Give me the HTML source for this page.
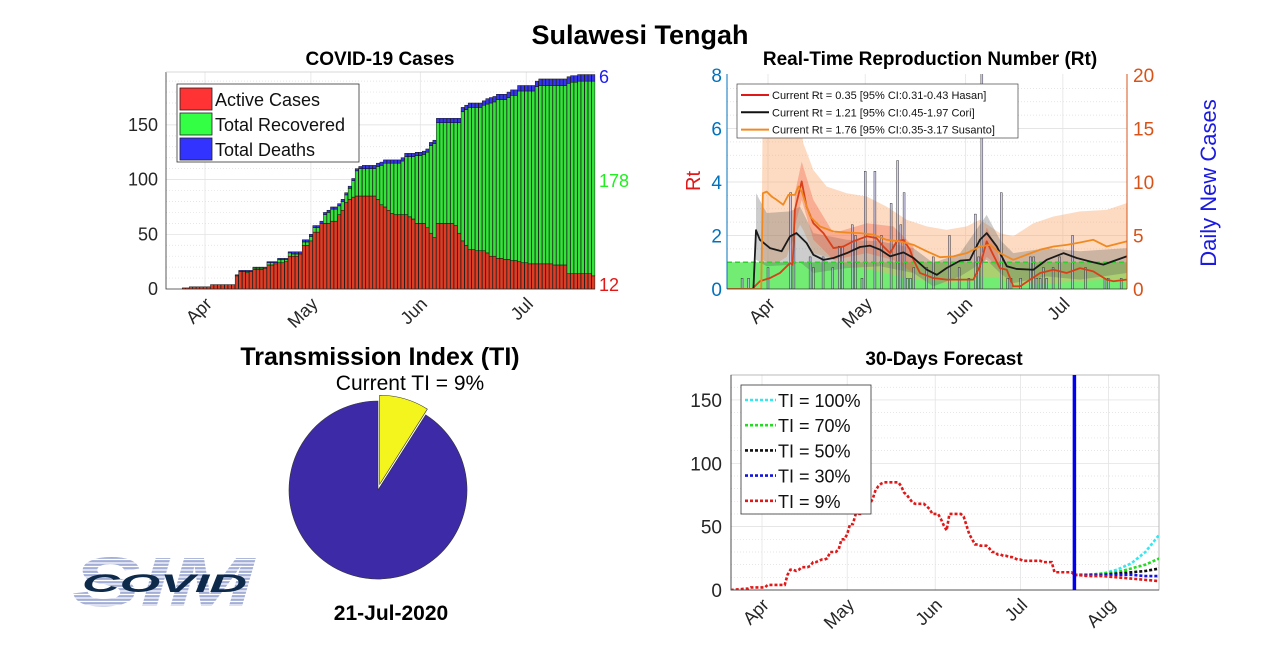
<!DOCTYPE html>
<html><head><meta charset="utf-8">
<style>
html,body{margin:0;padding:0;background:#fff;}
svg{display:block;font-family:"Liberation Sans",sans-serif;}
</style></head>
<body>
<svg id="fig" width="1280" height="661" viewBox="0 0 1280 661" xmlns="http://www.w3.org/2000/svg">
<defs>
<clipPath id="clipTR"><rect x="727" y="74" width="400" height="215"/></clipPath>
<clipPath id="clipFC"><rect x="731" y="375" width="428" height="215"/></clipPath>
</defs>
<text x="640" y="44" text-anchor="middle" font-size="27" font-weight="bold">Sulawesi Tengah</text>
<text x="380" y="65" text-anchor="middle" font-size="19" font-weight="bold">COVID-19 Cases</text>
<text x="930" y="65" text-anchor="middle" font-size="19" font-weight="bold">Real-Time Reproduction Number (Rt)</text>
<text x="944" y="365" text-anchor="middle" font-size="19" font-weight="bold">30-Days Forecast</text>
<text x="380" y="365" text-anchor="middle" font-size="25" font-weight="bold">Transmission Index (TI)</text>
<text x="410" y="390" text-anchor="middle" font-size="21">Current TI = 9%</text>
<text x="391" y="620" text-anchor="middle" font-size="21" font-weight="bold">21-Jul-2020</text>
<g id="logo">
  <text x="72" y="606" font-size="70" font-weight="bold" font-style="italic" fill="#a3aed6" textLength="182" lengthAdjust="spacingAndGlyphs">SIM</text>
  <g id="logoStripes"></g>
  <text x="82" y="592" font-size="25" font-weight="bold" font-style="italic" fill="#0d2a4a" textLength="165" lengthAdjust="spacingAndGlyphs">COVID</text>
</g>
<g id="tl"></g>
<g id="tr"></g>
<g id="pie"></g>
<g id="fc"></g>
</svg>
<script>
// ===== Cases chart data (day offset from Apr 1, starting at day -6) =====
const casesStartDay = -6;
const totalCases = [1,1,2,2,2,2,2, 2,4,4,4,4,4,4,4, 13,17,17,17,17, 20,20,20,20, 25,25,25, 28,28,28, 34,34,34,34, 45,45,50, 58,58,62, 70,72, 75,75,78, 82,88,94, 101,110, 112,113,113,113,113,115,116, 118,118,118,118,118,120, 124,124,124,125,125,126,128, 134,136, 156,156,156,156,156,156,156, 166,168,170,170,170,170,172,174,175,176, 178,178,178,180,182,182,186, 186,186,186,186,190, 192,192,192,192,192,192,192,192,194, 195,195,196,196,196,196,196];
const activeCases = [1,1,2,2,2,2,2, 2,4,4,4,4,4,4,4, 12,16,16,15,16, 18,18,18,19, 22,22,23, 24,24,25, 30,30,30,32, 40,40,44, 52,52,60, 60,60, 62,62,68, 72,79,82, 84,85, 85,85,85,85,85,82,77, 75,72,69,68,68,68, 68,66,64,60,60,60,56, 51,47, 60,60,60,60,60,58,51, 44,40,36,36,35,35,35,33,30,30, 28,28,27,27,26,26,25, 24,24,23,23,23, 23,23,23,23,22,22,22,22,14, 14,14,14,14,14,14,12];
const totalDeaths = [0,0,0,0,0,0,0,0,0,0,0,0,0,0,0, 1,1,1,1,1,1,1,1,1,1,1,1,1,1,1,1, 2,2,2,2,2,2,2,2,2,2,2,2,2,2,2,2,2,2,2,2, 3,3,3,3,3,3,3,3,3,3,3,3,3,3,3,3,3,3,3,3,3, 4,4,4,4,4,4,4,4,4,4,4,4,4,4, 5,5,5,5,5,5,5,5,5,5,5,5,5,5,5, 6,6,6,6,6,6,6,6,6,6,6,6,6,6,6,6];
const monthNames = ["Apr","May","Jun","Jul"];
const monthDays = [0,30,61,91];
const casesTicks = [0,50,100,150];

// ===== Rt chart data =====
const dailyDays = [-8,-6,0,7,8,13,14,17,20,22,23,26,27,29,30,33,35,38,40,41,42,43,44,45,49,51,56,59,62,64,65,66,72,74,75,78,81,82,83,84,85,86,88,90,94,98,104,105,109];
const dailyNew  = [1,1,2,9,5,3,2,3,2,4,4,6,5,1,11,11,5,8,12,6,9,1,1,2,2,3,5,2,1,7,3,22,9,1,1,1,3,3,1,1,2,1,2,3,5,2,1,1,1];
const susDays = [-12.6,-2.1,-1.6,-0.4,1.1,2.7,4.7,6.3,8.3,9.4,10.4,13.0,16.0,20.2,24.3,28.4,32.5,36.6,40.7,44.9,49.0,53.1,57.2,61.3,65.4,68.5,71.6,75.7,79.8,84.0,88.1,92.2,96.3,100.4,104.5,110.7];
const susRt   = [0,0,3.58,3.64,3.46,3.33,3.15,3.52,3.52,3.83,3.64,2.71,2.34,2.15,2.11,2.09,2.03,1.84,1.78,1.65,1.41,1.19,1.22,1.34,1.59,1.65,1.34,1.09,1.28,1.47,1.59,1.65,1.74,1.84,1.59,1.78];
const coriDays = [-12.6,-4.5,-3.7,-2.5,0.6,4.2,6.8,8.8,11.9,14.0,17.1,20.2,24.3,28.4,31.5,34.6,37.7,41.8,44.9,49.0,52.1,55.1,59.3,62.3,65.4,67.5,70.6,73.7,76.7,81.9,86.0,91.2,95.3,99.4,103.5,110.7];
const coriRt   = [0,0,2.2,1.84,1.53,1.41,1.97,2.09,1.72,1.28,1.09,1.16,1.34,1.57,1.62,1.47,1.22,1.37,1.16,0.72,0.53,0.78,1.06,1.09,1.84,2.09,1.59,0.85,0.75,0.72,1.09,1.34,1.16,1.03,0.91,1.22];
const hasDays = [-12.6,-4.9,-2.5,0.6,3.7,6.8,7.6,8.3,10.4,11.9,14.0,17.1,20.2,23.3,26.3,30.5,33.5,35.6,37.7,39.7,41.8,43.8,44.9,46.9,51.0,55.1,59.3,63.4,65.4,67.5,69.5,71.6,73.7,75.7,77.8,80.9,84.0,88.1,92.2,96.3,100.4,104.5,106.6,110.7];
const hasRt   = [0,0,0.29,0.41,0.6,0.97,0.9,2.96,4.02,3.08,2.46,2.09,1.53,1.59,1.78,1.97,1.9,1.59,1.34,1.78,1.84,1.47,1.09,0.6,0.41,0.35,0.35,0.35,0.85,1.78,1.28,0.78,0.72,0.1,0.1,0.35,0.6,0.72,0.6,0.78,0.66,0.35,0.29,0.35];
const susBandDays = [-2.1,-1.6,-0.4,2.7,5.8,6.8,9.9,10.9,14.0,18.1,24.3,30.5,36.6,42.8,49.0,55.1,61.3,65.4,71.6,75.7,81.9,88.1,96.3,104.5,110.7];
const susUpper = [0,7.31,7.06,6.44,6.38,6.38,6.32,5.45,4.45,3.83,3.58,3.46,3.08,2.59,2.34,2.21,2.34,2.59,2.09,1.97,2.46,2.71,2.9,2.96,3.21];
const susLower = [0,1.09,1.0,0.97,1.2,1.6,2.4,2.2,1.34,1.2,0.85,0.75,0.6,0.4,0.3,0.22,0.3,0.47,0.4,0.1,0.2,0.22,0.29,0.35,0.35];
const coriBandDays = [-3.7,-0.4,6.8,9.9,14.0,24.3,34.6,44.9,51.0,59.3,67.5,71.6,75.7,86.0,96.3,110.7];
const coriUpper = [3.58,2.84,2.9,3.08,2.09,1.84,1.78,1.53,0.97,1.34,2.77,1.84,1.34,1.53,1.41,1.53];
const coriLower = [1.09,0.85,0.9,1.0,0.6,0.78,0.85,0.6,0.1,0.47,1.09,0.6,0.22,0.47,0.35,0.6];
const hasBandDays = [7.8,8.3,10.4,14.0,20.2,30.5,38.7,44.9];
const hasUpper = [0,3.58,4.76,3.33,2.09,2.46,2.34,1.59];
const hasLower = [0,2.34,3.33,1.84,1.09,1.34,1.09,0.6];
const hasBand2Days = [64.4,67.5,70.6,72.0];
const hasUpper2 = [0.8,2.3,1.5,0.8];
const hasLower2 = [0.6,1.2,0.9,0.6];
const rtTicks = [0,2,4,6,8];
const casesAxisTicks = [0,5,10,15,20];

// ===== Pie data =====
const tiValues = [9,91];

// ===== Forecast data =====
const fcMonthNames = ["Apr","May","Jun","Jul","Aug"];
const fcMonthDays = [0,30,61,91,122];
const fcTicks = [0,50,100,150];
const forecastDays = [110,115,120,125,130,135,140];
const fc100 = [12,12,13,16,21,30,44];
const fc70  = [12,12,13,14,17,20,25];
const fc50  = [12,12,12,13,14,15,17];
const fc30  = [12,12,12,12,12,11,11];
const fc9   = [12,11,11,10,9,8,7];
const todayDay = 110;

const NS="http://www.w3.org/2000/svg";
function mk(tag, attrs, parent){const e=document.createElementNS(NS,tag);for(const k in attrs)e.setAttribute(k,attrs[k]);parent.appendChild(e);return e;}
function txt(s, attrs, parent){const e=mk("text",attrs,parent);e.textContent=s;return e;}

// ---- logo stripes ----
(function(){
  const g=document.getElementById("logoStripes");
  for(let y=556;y<608;y+=3.5){
    const l=mk("line",{x1:65,y1:y,x2:262,y2:y,stroke:"#fff","stroke-width":1.2},g);
    
    
  }
})();

// ---- Cases chart ----
(function(){
  const g=document.getElementById("tl");
  const xTL=d=>205+d*3.53, yTL=v=>289-v*1.094;
  const L=166,R=595,T=72,B=289;
  for(let v=10;v<200;v+=10){
    const gl=mk("line",{x1:L,x2:R,y1:yTL(v),y2:yTL(v),stroke:"#ddd","stroke-width":0.7,"stroke-dasharray":v%50?"1 2":"none"},g);
    
    
  }
  monthDays.forEach(d=>{
    const gl=mk("line",{x1:xTL(d),x2:xTL(d),y1:T,y2:B,stroke:"#e4e4e4","stroke-width":0.8},g);
    
    
  });
  const w=3.53*0.9;
  totalCases.forEach((tot,i)=>{
    const d=casesStartDay+i, x=xTL(d)-w/2;
    const a=activeCases[i], de=totalDeaths[i], rec=tot-a-de;
    const r1=mk("rect",{x:x,y:yTL(a),width:w,height:yTL(0)-yTL(a),fill:"#e03c24",stroke:"#111","stroke-width":0.5},g);
    
    
    if(rec>0){
      const r2=mk("rect",{x:x,y:yTL(a+rec),width:w,height:yTL(a)-yTL(a+rec),fill:"#33e33a",stroke:"#111","stroke-width":0.5},g);
      
      
    }
    if(de>0){
      const r3=mk("rect",{x:x,y:yTL(tot),width:w,height:yTL(a+rec)-yTL(tot),fill:"#3535f0",stroke:"#111","stroke-width":0.5},g);
      
      
    }
  });
  const ax=mk("path",{d:`M${L},${T}V${B}H${R}`,fill:"none",stroke:"#333","stroke-width":0.8},g);
  
  
  const tb=mk("line",{x1:L,x2:R,y1:T,y2:T,stroke:"#ccc","stroke-width":0.8},g);
  
  
  casesTicks.forEach(v=>{
    const t=txt(String(v),{x:158,y:yTL(v)+6,"text-anchor":"end","font-size":18,fill:"#262626"},g);
    
    
  });
  monthNames.forEach((m,i)=>{
    const x=xTL(monthDays[i]);
    const t=txt(m,{x:x+8,y:B+16,"text-anchor":"end","font-size":18,fill:"#262626",transform:`rotate(-45 ${x+8} ${B+16})`},g);
    
    
  });
  const n=totalCases.length-1;
  const lastA=activeCases[n], lastD=totalDeaths[n], lastR=totalCases[n]-lastA-lastD;
  const l1=txt(String(lastD),{x:599,y:83,"font-size":18,fill:"#1d1df0"},g);
  
  
  const l2=txt(String(lastR),{x:599,y:187,"font-size":18,fill:"#22ee22"},g);
  
  
  const l3=txt(String(lastA),{x:599,y:291,"font-size":18,fill:"#e01818"},g);
  
  
  const lg=mk("g",{},g);
  
  
  mk("rect",{x:177,y:84,width:182,height:78,fill:"#fff",stroke:"#333","stroke-width":0.8},lg);
  [["Active Cases","#ff3333"],["Total Recovered","#33ff44"],["Total Deaths","#3333ff"]].forEach((e,i)=>{
    const y=88+i*25;
    const sw=mk("rect",{x:180,y:y,width:32,height:22,fill:e[1],stroke:"#222","stroke-width":0.8},lg);
    
    
    const t=txt(e[0],{x:215,y:y+18,"font-size":18,fill:"#111"},lg);
    
    
  });
})();

// ---- Rt chart ----
(function(){
  const g=document.getElementById("tr");
  const L=727,R=1127,T=74,B=289;
  const xR=d=>768+d*3.24, yR=v=>289-v*26.75, yC=c=>289-c*10.7;
  const pg=mk("g",{"clip-path":"url(#clipTR)"},g);
  for(let v=0.5;v<8;v+=0.5){
    const gl=mk("line",{x1:L,x2:R,y1:yR(v),y2:yR(v),stroke:"#ddd","stroke-width":0.7,"stroke-dasharray":v%2?"1 2":"none"},pg);
    
    
  }
  monthDays.forEach(d=>{
    const gl=mk("line",{x1:xR(d),x2:xR(d),y1:T,y2:B,stroke:"#e4e4e4","stroke-width":0.8},pg);
    
    
  });
  const gr=mk("rect",{x:L,y:yR(1),width:R-L,height:yR(0)-yR(1),fill:"#72ec72"},pg);
  
  
  const band=(days,up,lo,fill,name)=>{
    let d="M"+days.map((dd,i)=>xR(dd)+","+yR(up[i])).join("L");
    for(let i=days.length-1;i>=0;i--) d+="L"+xR(days[i])+","+yR(lo[i]);
    const p=mk("path",{d:d+"Z",fill:fill,stroke:"none"},pg);
    
    
  };
  band(susBandDays,susUpper,susLower,"rgba(250,170,110,0.42)",'susanto-ci-band');
  band(coriBandDays,coriUpper,coriLower,"rgba(90,90,90,0.3)",'cori-ci-band');
  band(hasBandDays,hasUpper,hasLower,"rgba(240,90,60,0.35)",'hasan-ci-band');
  band(hasBand2Days,hasUpper2,hasLower2,"rgba(240,90,60,0.35)",'hasan-ci-band-june');
  const bw=3.24*0.6;
  dailyDays.forEach((d,i)=>{
    const b=mk("rect",{x:xR(d)-bw/2,y:yC(dailyNew[i]),width:bw,height:yC(0)-yC(dailyNew[i]),fill:"rgba(185,185,240,0.6)",stroke:"#222","stroke-width":0.45},pg);
    
    
  });
  const dl=mk("line",{x1:L,x2:R,y1:yR(1),y2:yR(1),stroke:"#2fd12f","stroke-width":1.5,"stroke-dasharray":"5 3"},pg);
  
  
  const line=(days,vals,col,name)=>{
    const p=mk("polyline",{points:days.map((d,i)=>xR(d)+","+yR(vals[i])).join(" "),fill:"none",stroke:col,"stroke-width":1.8,"stroke-linejoin":"round"},pg);
    
    
  };
  line(hasDays,hasRt,"#d8401a",'hasan-rt-line');
  line(coriDays,coriRt,"#1a1a1a",'cori-rt-line');
  line(susDays,susRt,"#f08a20",'susanto-rt-line');
  const la=mk("line",{x1:L,x2:L,y1:T,y2:B,stroke:"#0072bd","stroke-width":1},g);
  
  
  const ra=mk("line",{x1:R,x2:R,y1:T,y2:B,stroke:"#d95319","stroke-width":1},g);
  
  
  const ba=mk("line",{x1:L,x2:R,y1:B,y2:B,stroke:"#333","stroke-width":0.8},g);
  
  
  rtTicks.forEach(v=>{
    const t=txt(String(v),{x:722,y:yR(v)+7,"text-anchor":"end","font-size":19,fill:"#0072bd"},g);
    
    
  });
  casesAxisTicks.forEach(v=>{
    const t=txt(String(v),{x:1133,y:yC(v)+7,"font-size":19,fill:"#d95319"},g);
    
    
  });
  const yl=txt("Rt",{x:700,y:181,"text-anchor":"middle","font-size":20,fill:"#e01818",transform:"rotate(-90 700 181)"},g);
  
  
  const yl2=txt("Daily New Cases",{x:1216,y:183,"text-anchor":"middle","font-size":22,fill:"#1a1ae0",transform:"rotate(-90 1216 183)"},g);
  
  
  monthNames.forEach((m,i)=>{
    const x=xR(monthDays[i]);
    const t=txt(m,{x:x+8,y:B+16,"text-anchor":"end","font-size":18,fill:"#262626",transform:`rotate(-45 ${x+8} ${B+16})`},g);
    
    
  });
  const lg=mk("g",{},g);
  
  
  mk("rect",{x:737,y:84,width:281,height:54,fill:"#fff",stroke:"#444","stroke-width":0.7},lg);
  [["Current Rt = 0.35 [95% CI:0.31-0.43 Hasan]","#e01818"],["Current Rt = 1.21 [95% CI:0.45-1.97 Cori]","#111"],["Current Rt = 1.76 [95% CI:0.35-3.17 Susanto]","#f08a20"]].forEach((e,i)=>{
    const y=95+i*17.3;
    const s=mk("line",{x1:741,x2:769,y1:y,y2:y,stroke:e[1],"stroke-width":2},lg);
    
    
    const t=txt(e[0],{x:772,y:y+4,"font-size":11,fill:"#111"},lg);
    
    
  });
})();

// ---- Pie ----
(function(){
  const g=document.getElementById("pie");
  const cx=378,cy=490,r=89;
  const total=tiValues.reduce((a,b)=>a+b,0);
  const cols=["#f5f51e","#3d2aa6"];
  let a0=0;
  tiValues.forEach((v,i)=>{
    const a1=a0+v/total*2*Math.PI;
    const mid=(a0+a1)/2, off=i===0?6:0;
    const ox=cx+off*Math.sin(mid), oy=cy-off*Math.cos(mid);
    const p0=[ox+r*Math.sin(a0),oy-r*Math.cos(a0)], p1=[ox+r*Math.sin(a1),oy-r*Math.cos(a1)];
    const large=(a1-a0)>Math.PI?1:0;
    const p=mk("path",{d:`M${ox},${oy}L${p0[0]},${p0[1]}A${r},${r} 0 ${large} 1 ${p1[0]},${p1[1]}Z`,fill:cols[i],stroke:"#333","stroke-width":0.6},g);
    
    
    a0=a1;
  });
})();

// ---- Forecast ----
(function(){
  const g=document.getElementById("fc");
  const L=731,R=1159,T=375,B=590;
  const xF=d=>762+d*2.84, yF=v=>590-v*1.267;
  for(let v=10;v<170;v+=10){
    const gl=mk("line",{x1:L,x2:R,y1:yF(v),y2:yF(v),stroke:"#ddd","stroke-width":0.7,"stroke-dasharray":v%50?"1 2":"none"},g);
    
    
  }
  fcMonthDays.forEach(d=>{
    const gl=mk("line",{x1:xF(d),x2:xF(d),y1:T,y2:B,stroke:"#e4e4e4","stroke-width":0.8},g);
    
    
  });
  const bx=mk("rect",{x:L,y:T,width:R-L,height:B-T,fill:"none",stroke:"#aaa","stroke-width":0.8},g);
  
  
  const ax=mk("path",{d:`M${L},${T}V${B}H${R}`,fill:"none",stroke:"#333","stroke-width":0.8},g);
  
  
  const pg=mk("g",{"clip-path":"url(#clipFC)"},g);
  const dash={"stroke-width":2.6,"stroke-dasharray":"3 2",fill:"none"};
  const hist=[[xF(-11),yF(0)]].concat(activeCases.map((v,i)=>[xF(casesStartDay+i),yF(v)]));
  const series=[[fc100,"#33e8f0",'forecast-ti-100-line'],[fc70,"#22dd22",'forecast-ti-70-line'],[fc50,"#111",'forecast-ti-50-line'],[fc30,"#1414e0",'forecast-ti-30-line'],[fc9,"#e01818",'forecast-ti-9-line']];
  series.forEach(s=>{
    const p=mk("polyline",Object.assign({points:forecastDays.map((d,i)=>xF(d)+","+yF(s[0][i])).join(" "),stroke:s[1]},dash),pg);
    
    
  });
  const h=mk("polyline",Object.assign({points:hist.map(p=>p.join(",")).join(" "),stroke:"#e01818"},dash),pg);
  
  
  const vl=mk("line",{x1:xF(todayDay),x2:xF(todayDay),y1:T,y2:B,stroke:"#0000ee","stroke-width":3.5},g);
  
  
  fcTicks.forEach(v=>{
    const t=txt(String(v),{x:722,y:yF(v)+7,"text-anchor":"end","font-size":19,fill:"#262626"},g);
    
    
  });
  fcMonthNames.forEach((m,i)=>{
    const x=xF(fcMonthDays[i]);
    const t=txt(m,{x:x+8,y:B+16,"text-anchor":"end","font-size":18,fill:"#262626",transform:`rotate(-45 ${x+8} ${B+16})`},g);
    
    
  });
  const lg=mk("g",{},g);
  
  
  mk("rect",{x:741,y:385,width:130,height:129,fill:"#fff",stroke:"#333","stroke-width":0.8},lg);
  [["TI = 100%","#33e8f0"],["TI = 70%","#22dd22"],["TI = 50%","#111"],["TI = 30%","#1414e0"],["TI = 9%","#e01818"]].forEach((e,i)=>{
    const y=400+i*25.2;
    const s=mk("line",{x1:745,x2:776,y1:y,y2:y,stroke:e[1],"stroke-width":2.6,"stroke-dasharray":"3 2"},lg);
    
    
    const t=txt(e[0],{x:778,y:y+7,"font-size":18,fill:"#111"},lg);
    
    
  });
})();
</script>
</body></html>
